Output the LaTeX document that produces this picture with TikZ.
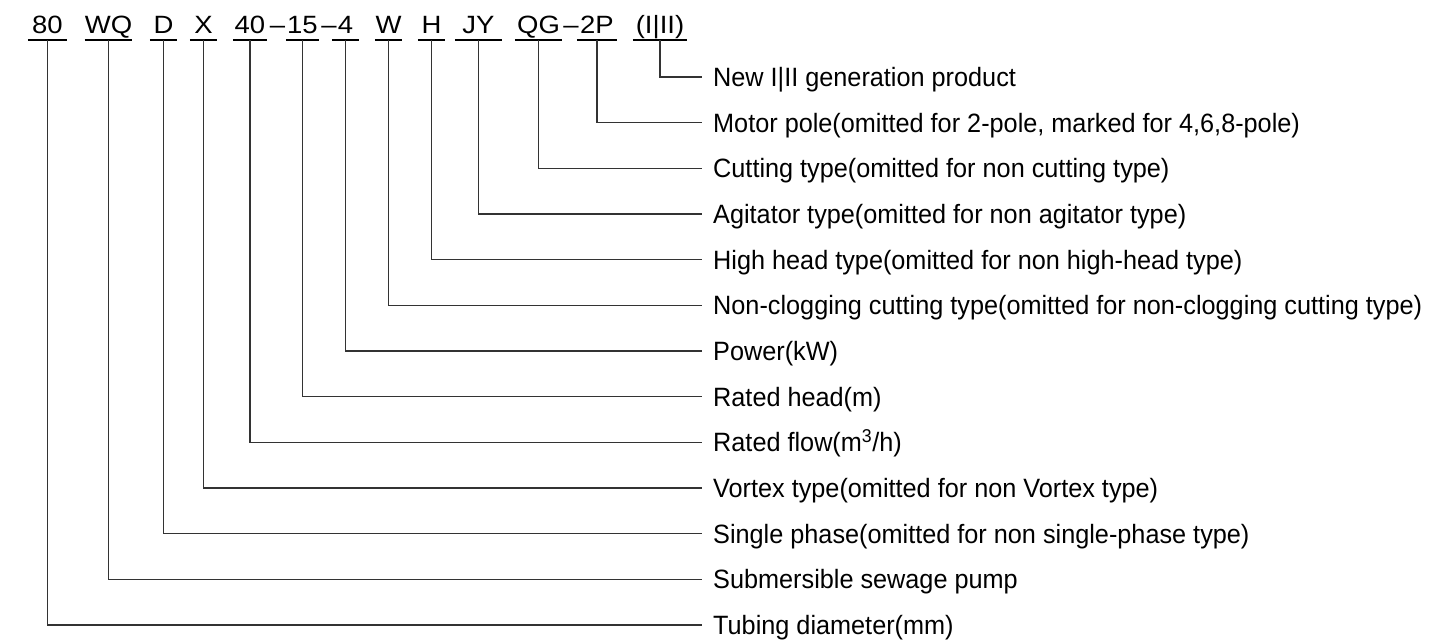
\documentclass[tikz,border=0pt]{standalone}
\usepackage{fontspec}
\setmainfont{Liberation Sans}
\newfontfamily\lblfont[FakeStretch=0.953]{Liberation Sans}
\newfontfamily\codefont[FakeStretch=1.1]{Liberation Sans}
\begin{document}
\begin{tikzpicture}[x=1pt,y=-1pt,
  code/.style={anchor=south,inner sep=0pt,text height=18pt,text depth=6pt,font=\codefont\fontsize{25}{25}\selectfont},
  dashtok/.style={anchor=base,inner sep=0pt,font=\codefont\fontsize{25}{25}\selectfont},
  lbl/.style={anchor=west,inner sep=0pt,text height=19pt,text depth=0pt,font=\lblfont\fontsize{26.5}{26.5}\selectfont},
  uline/.style={line width=1.6pt,black},
  conn/.style={line width=1.3pt,black!80}]
\useasboundingbox (0,0) rectangle (1452,641);
% code tokens
\node[code,minimum width=39pt] (c13) at (47.5,40) {80};
\node[code,minimum width=47pt] (c12) at (108.5,40) {WQ};
\node[code,minimum width=27pt] (c11) at (163.5,40) {D};
\node[code,minimum width=27pt] (c10) at (203.5,40) {X};
\node[code,minimum width=34pt] (c9) at (250,40) {40};
\node[dashtok] (d1) at (277.5,33) {\char"2013};
\node[code,minimum width=33pt] (c8) at (302.5,40) {15};
\node[dashtok] (d2) at (329,33) {\char"2013};
\node[code,minimum width=27pt] (c7) at (345.5,40) {4};
\node[code,minimum width=27pt] (c6) at (388.5,40) {W};
\node[code,minimum width=27pt] (c5) at (431.5,40) {H};
\node[code,minimum width=47pt] (c4) at (478.5,40) {JY};
\node[code,minimum width=47pt] (c3) at (538.5,40) {QG};
\node[dashtok] (d3) at (571,33) {\char"2013};
\node[code,minimum width=40pt] (c2) at (597,40) {2P};
\node[code,minimum width=54pt] (c1) at (660,40) {(I|II)};
\foreach \n in {c1,c2,c3,c4,c5,c6,c7,c8,c9,c10,c11,c12,c13}
  \draw[uline] (\n.south west) -- (\n.south east);
% labels
\node[lbl] (l1) at (713,77) {New I|II generation product};
\node[lbl] (l2) at (713,122.67) {Motor pole(omitted for 2-pole, marked for 4,6,8-pole)};
\node[lbl] (l3) at (713,168.33) {Cutting type(omitted for non cutting type)};
\node[lbl] (l4) at (713,214) {Agitator type(omitted for non agitator type)};
\node[lbl] (l5) at (713,259.67) {High head type(omitted for non high-head type)};
\node[lbl] (l6) at (713,305.33) {Non-clogging cutting type(omitted for non-clogging cutting type)};
\node[lbl] (l7) at (713,351) {Power(kW)};
\node[lbl] (l8) at (713,396.67) {Rated head(m)};
\node[lbl] (l9) at (713,442.33) {Rated flow(m\textsuperscript{3}/h)};
\node[lbl] (l10) at (713,488) {Vortex type(omitted for non Vortex type)};
\node[lbl] (l11) at (713,533.67) {Single phase(omitted for non single-phase type)};
\node[lbl] (l12) at (713,579.33) {Submersible sewage pump};
\node[lbl] (l13) at (713,625) {Tubing diameter(mm)};
\foreach \i in {1,...,13}
  \draw[conn] (c\i.south) |- ([xshift=-11pt]l\i.west);
\end{tikzpicture}
\end{document}
